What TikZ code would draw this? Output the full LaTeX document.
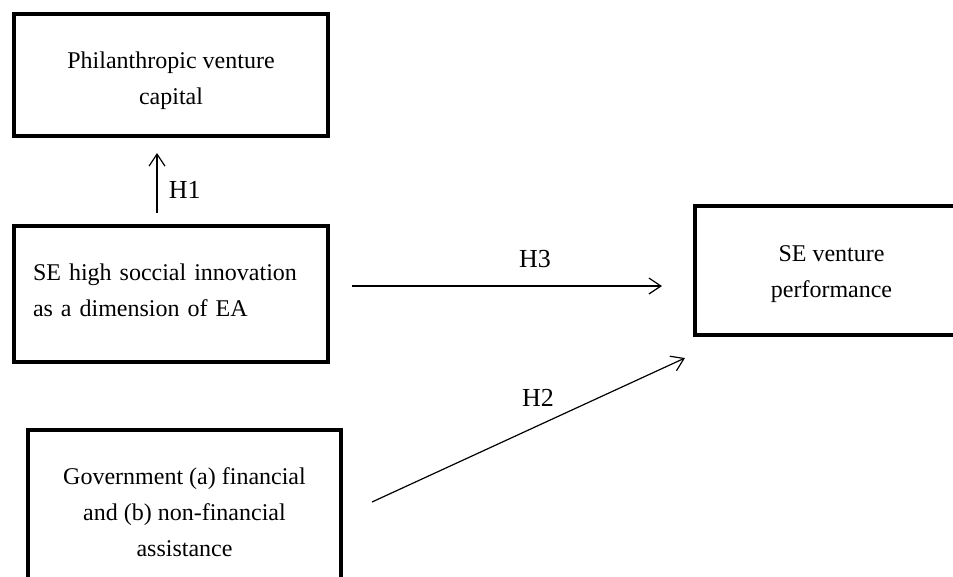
\documentclass[tikz,border=0pt]{standalone}
\usepackage{fontspec}
\setmainfont{Liberation Serif}
\usepackage{tikz}
\usetikzlibrary{arrows.meta, positioning, calc}

\begin{document}
\begin{tikzpicture}[
  x=1pt, y=-1pt,
  box/.style={rectangle, draw, line width=4pt, align=center, inner sep=0pt, font=\fontsize{24}{36}\selectfont},
  arrow/.style={-{Straight Barb[length=12pt, width=16pt]}, line width=1.2pt},
  hyp/.style={font=\fontsize{26}{30}\selectfont}
]
% Page frame: the lower and right boxes run past the edge, as in the figure.
\clip (0,0) rectangle (953,576);
\fill[white] (0,0) rectangle (953,576);

\node[box, minimum width=314pt, minimum height=122pt] (phil) at (171,75) {\rule{0pt}{29pt}Philanthropic venture\\capital};
\node[box, minimum width=314pt, minimum height=136pt, align=left, text width=276pt] (innov) at (171,294) {SE high soccial innovation\\as a dimension of EA\rule[-7pt]{0pt}{0pt}};
\node[box, minimum width=313pt, minimum height=164pt] (gov) at (184.5,512) {Government (a) financial\\and (b) non-financial\\assistance};
\node[box, minimum width=273pt, minimum height=129pt] (perf) at (831.5,270.5) {\rule{0pt}{24pt}SE venture\\performance};

% Hypothesis arrows, each kept a little off the boxes.
\draw[arrow] ([xshift=-14pt, yshift=11pt]innov.north) -- node[hyp, right=8pt, pos=0.38] (h1) {H1} ([xshift=-14pt, yshift=-15pt]phil.south);
\draw[arrow] ([xshift=22pt, yshift=8pt]innov.east) -- node[hyp, above=14pt, pos=0.59] (h3) {H3} ([xshift=-31pt, yshift=-15.5pt]perf.west);
\draw[arrow] ([xshift=29pt, yshift=10pt]gov.east) -- node[hyp, above=15pt, pos=0.53] (h2) {H2} ([xshift=-8pt, yshift=-21pt]perf.south west);

\end{tikzpicture}
\end{document}
